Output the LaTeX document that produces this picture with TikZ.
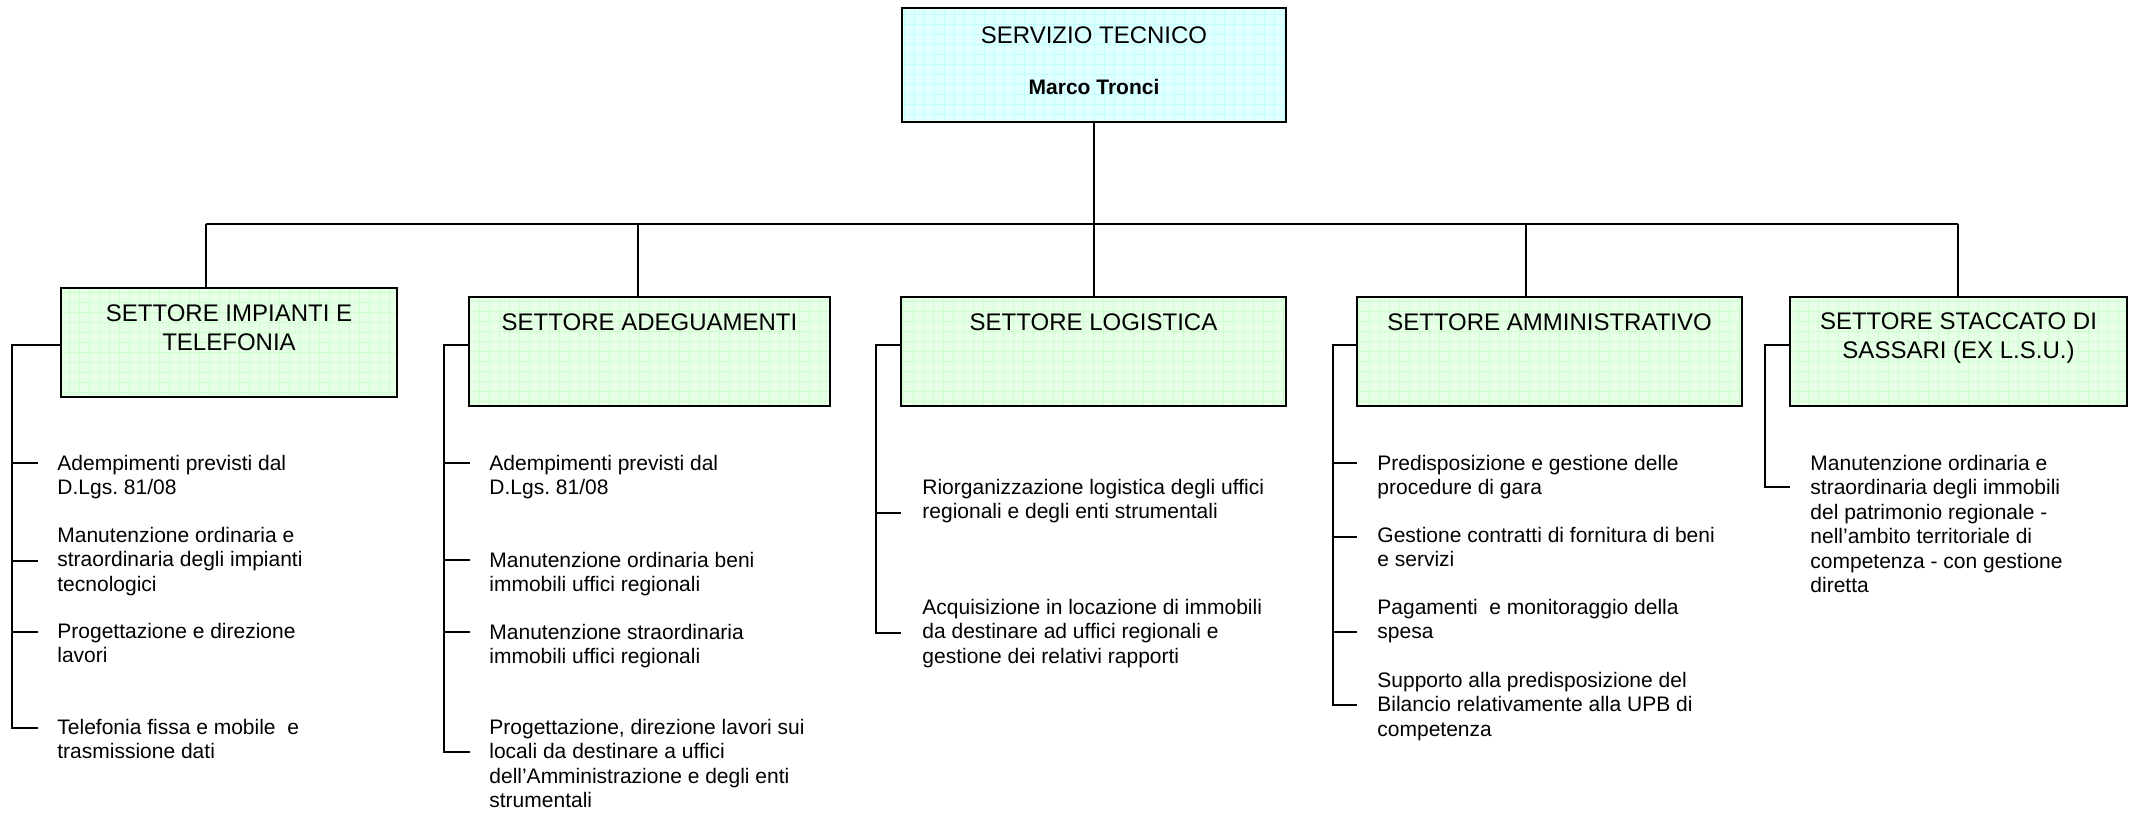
\documentclass[tikz,border=0pt]{standalone}
\usepackage{fontspec}
\setmainfont{Liberation Sans}
\usetikzlibrary{calc}
\frenchspacing

\definecolor{verdino}{RGB}{230,255,230}
\definecolor{verdegriglia}{RGB}{204,255,204}
\definecolor{celeste}{RGB}{224,255,255}
\definecolor{celestegriglia}{RGB}{190,255,255}

\tikzset{
  linea/.style={line width=1pt},
  settore/.style={draw, line width=1pt, fill=verdino, inner sep=0pt, minimum height=54.5pt,
    path picture={\draw[verdegriglia, line width=0.5pt, step=5pt] (path picture bounding box.south west) grid (path picture bounding box.north east);}},
  servizio/.style={draw, line width=1pt, fill=celeste, inner sep=0pt, minimum width=192pt, minimum height=57pt,
    path picture={\draw[celestegriglia, line width=0.5pt, step=5pt] (path picture bounding box.south west) grid (path picture bounding box.north east);}},
  titolo/.style={font=\fontsize{12}{14.5}\selectfont, align=center, inner sep=0pt, anchor=base},
  compito/.style={font=\fontsize{10.5}{12.25}\selectfont, align=left, inner sep=0pt, anchor=base west}
}

\begin{document}
\begin{tikzpicture}[x=0.5pt, y=-0.5pt]
        \useasboundingbox (0,0) rectangle (2132,813);

        % Servizio
        \node[servizio] (top) at (1094,65) {};
        \node[titolo] (ttop) at (1094,43.5) {SERVIZIO TECNICO};
        \node[titolo, font=\fontsize{10.5}{12.25}\selectfont\bfseries] (capo) at (1094,95) {Marco Tronci};

        % Settori
        \node[settore, minimum width=168pt] (b1) at (229,342.5) {};
        \node[settore, minimum width=180.5pt] (b2) at (649.5,351.5) {};
        \node[settore, minimum width=192.5pt] (b3) at (1093.5,351.5) {};
        \node[settore, minimum width=192.5pt] (b4) at (1549.5,351.5) {};
        \node[settore, minimum width=168.5pt] (b5) at (1958.5,351.5) {};

        % (base = ultima riga)
        \node[titolo] (tb1) at (229,350) {SETTORE IMPIANTI E\\TELEFONIA};
        \node[titolo] (tb2) at (649.5,330) {SETTORE ADEGUAMENTI};
        \node[titolo] (tb3) at (1093.5,330) {SETTORE LOGISTICA};
        \node[titolo] (tb4) at (1549.5,330) {SETTORE AMMINISTRATIVO};
        \node[titolo] (tb5) at (1958.5,358) {SETTORE STACCATO DI\\SASSARI (EX L.S.U.)};

        % Linee dal servizio ai settori
        \coordinate (bus) at (1094,224);
        \draw[linea] (top.south) -- (bus);
        \draw[linea] (206,224) -- (1958,224);
        \foreach \x/\b in {206/b1, 638/b2, 1094/b3, 1526/b4, 1958/b5}
            \draw[linea] (\x,224) -- (\b.north -| \x,224);

        % Compiti settore impianti
        \node[compito] (t11) at (57,494.5) {Adempimenti previsti dal\\D.Lgs. 81/08};
        \node[compito] (t12) at (57,591) {Manutenzione ordinaria e\\straordinaria degli impianti\\tecnologici};
        \node[compito] (t13) at (57,662.5) {Progettazione e direzione\\lavori};
        \node[compito] (t14) at (57,758.5) {Telefonia fissa e mobile \ e\\trasmissione dati};
        \draw[linea] ([yshift=-1.25pt]b1.west) -- ++(-48,0) |- (38,728);
        \foreach \y in {463,561,632} \draw[linea] (13,\y) -- (38,\y);

        % Compiti settore adeguamenti
        \node[compito] (t21) at (489,494.5) {Adempimenti previsti dal\\D.Lgs. 81/08};
        \node[compito] (t22) at (489,591.5) {Manutenzione ordinaria beni\\immobili uffici regionali};
        \node[compito] (t23) at (489,663.5) {Manutenzione straordinaria\\immobili uffici regionali};
        \node[compito] (t24) at (489,807.5) {Progettazione, direzione lavori sui\\locali da destinare a uffici\\dell’Amministrazione e degli enti\\strumentali};
        \draw[linea] ([yshift=3.25pt]b2.west) -- ++(-24,0) |- (470,752);
        \foreach \y in {463,560,632} \draw[linea] (445,\y) -- (470,\y);

        % Compiti settore logistica
        \node[compito] (t31) at (922,518.5) {Riorganizzazione logistica degli uffici\\regionali e degli enti strumentali};
        \node[compito] (t32) at (922,663) {Acquisizione in locazione di immobili\\da destinare ad uffici regionali e\\gestione dei relativi rapporti};
        \draw[linea] ([yshift=3.25pt]b3.west) -- ++(-24,0) |- (901,633);
        \draw[linea] (877,513) -- (901,513);

        % Compiti settore amministrativo
        \node[compito] (t41) at (1377,494.5) {Predisposizione e gestione delle\\procedure di gara};
        \node[compito] (t42) at (1377,566.5) {Gestione contratti di fornitura di beni\\e servizi};
        \node[compito] (t43) at (1377,638.5) {Pagamenti \ e monitoraggio della\\spesa};
        \node[compito] (t44) at (1377,736) {Supporto alla predisposizione del\\Bilancio relativamente alla UPB di\\competenza};
        \draw[linea] ([yshift=3.25pt]b4.west) -- ++(-23,0) |- (1357,705);
        \foreach \y in {463,537,632} \draw[linea] (1334,\y) -- (1357,\y);

        % Compiti settore staccato
        \node[compito] (t51) at (1810,592.5) {Manutenzione ordinaria e\\straordinaria degli immobili\\del patrimonio regionale -\\nell’ambito territoriale di\\competenza - con gestione\\diretta};
        \draw[linea] ([yshift=3.25pt]b5.west) -- ++(-24,0) |- (1790,487);

    \end{tikzpicture}
\end{document}
